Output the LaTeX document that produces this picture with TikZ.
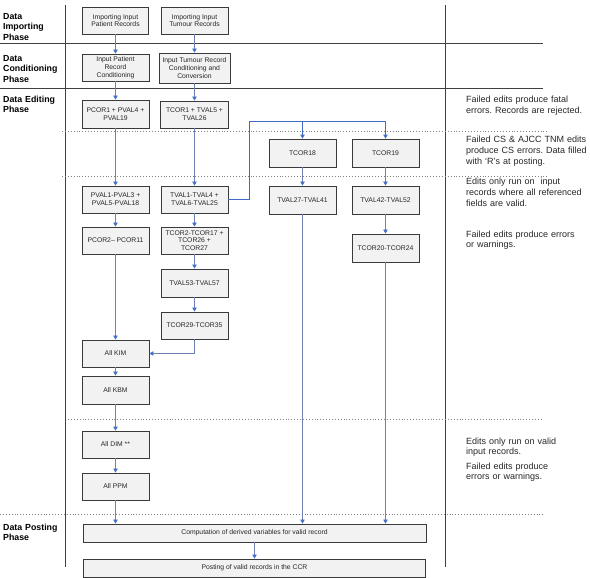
\documentclass[tikz,border=0pt]{standalone}
\usepackage{fontspec}
\setmainfont{Liberation Sans}
\frenchspacing
\usetikzlibrary{arrows.meta}
\definecolor{boxfill}{HTML}{F2F2F2}
\definecolor{boxborder}{HTML}{3A3A3A}
\definecolor{sepclr}{HTML}{404040}
\definecolor{dotclr}{HTML}{808080}
\definecolor{connclr}{RGB}{112,128,178}
\definecolor{arrowclr}{HTML}{4472C4}
\definecolor{blueconn}{HTML}{3F6BC8}
\tikzset{
  box/.style={draw=boxborder, fill=boxfill, line width=0.9pt, inner sep=1pt, align=center,
    font=\fontsize{6.8}{7.8}\selectfont, text=black!85},
  conn/.style={draw=connclr, line width=0.7pt, -{Triangle[width=4.5pt,length=4pt,color=arrowclr]}},
  bconn/.style={conn, draw=blueconn},
  sepline/.style={draw=sepclr, line width=0.9pt},
  dotline/.style={draw=dotclr, line width=0.6pt, dash pattern=on 0.7pt off 2.2pt},
  phase/.style={anchor=base west, inner sep=0pt, align=left, text width=62pt,
    font=\fontsize{8.8}{10.3}\selectfont\bfseries},
  note/.style={anchor=base west, inner sep=0pt, align=left, text width=125pt,
    font=\fontsize{9}{10.8}\selectfont, text=black!85},
}
\begin{document}
\begin{tikzpicture}[x=1pt,y=-1pt]
\useasboundingbox (0,0) rectangle (590,578);
% separators
\draw[sepline] (65,5) -- (65,567);
\draw[sepline] (445,5) -- (445,567);
\draw[sepline] (0,43) -- (543,43);
\draw[sepline] (0,88) -- (543,88);
\draw[dotline] (62,131) -- (547,131);
\draw[dotline] (62,176) -- (547,176);
\draw[dotline] (68,419) -- (543,419);
\draw[dotline] (0,514) -- (543,514);
% phase labels
\node[phase] (ph1) at (3,19.5) {Data\\Importing\\Phase};
\node[phase] (ph2) at (3,61.5) {Data\\Conditioning\\Phase};
\node[phase] (ph3) at (3,102.5) {Data Editing\\Phase};
\node[phase] (ph4) at (3,530) {Data Posting\\Phase};
% notes
\node[note] (n1) at (466,102.5) {Failed edits produce fatal\\errors. Records are rejected.};
\node[note] (n2) at (466,142.5) {Failed CS \& AJCC TNM edits\\produce CS errors. Data filled\\with `R's at posting.};
\node[note] (n3) at (466,185) {Edits only run on\ \ input\\records where all referenced\\fields are valid.};
\node[note] (n4) at (466,237) {Failed edits produce errors\\or warnings.};
\node[note] (n5) at (466,444) {Edits only run on valid\\input records.};
\node[note] (n6) at (466,469) {Failed edits produce\\errors or warnings.};
% boxes
\node[box, minimum width=66pt, minimum height=27pt] (imp1) at (115.5,20.5) {Importing Input\\Patient Records};
\node[box, minimum width=67pt, minimum height=27pt] (imp2) at (194.5,20.5) {Importing Input\\Tumour Records};
\node[box, minimum width=67pt, minimum height=27pt] (cond1) at (115.5,67.5) {Input Patient\\Record\\Conditioning};
\node[box, minimum width=71pt, minimum height=30pt] (cond2) at (194.5,68) {Input Tumour Record\\Conditioning and\\Conversion};
\node[box, minimum width=67pt, minimum height=28pt] (pcor1) at (115.5,114) {PCOR1 + PVAL4 +\\PVAL19};
\node[box, minimum width=68pt, minimum height=27pt] (tcor1) at (194.5,114.5) {TCOR1 + TVAL5 +\\TVAL26};
\node[box, minimum width=67pt, minimum height=28pt] (tcor18) at (302.5,153) {TCOR18};
\node[box, minimum width=67pt, minimum height=28pt] (tcor19) at (385.5,153) {TCOR19};
\node[box, minimum width=67pt, minimum height=28pt] (tval27) at (302.5,200) {TVAL27-TVAL41};
\node[box, minimum width=67pt, minimum height=28pt] (tval42) at (385.5,200) {TVAL42-TVAL52};
\node[box, minimum width=67pt, minimum height=28pt] (tcor20) at (385.5,248) {TCOR20-TCOR24};
\node[box, minimum width=67pt, minimum height=27pt] (pval1) at (115.5,199.5) {PVAL1-PVAL3 +\\PVAL5-PVAL18};
\node[box, minimum width=67pt, minimum height=27pt] (tval1) at (194.5,199.5) {TVAL1-TVAL4 +\\TVAL6-TVAL25};
\node[box, minimum width=67pt, minimum height=27pt] (pcor2) at (115.5,240.5) {PCOR2– PCOR11};
\node[box, minimum width=67pt, minimum height=27pt] (tcor2) at (194.5,240.5) {TCOR2-TCOR17 +\\TCOR26 +\\TCOR27};
\node[box, minimum width=67pt, minimum height=28pt] (tval53) at (194.5,283) {TVAL53-TVAL57};
\node[box, minimum width=67pt, minimum height=27pt] (tcor29) at (194.5,325.5) {TCOR29-TCOR35};
\node[box, minimum width=67pt, minimum height=27pt] (kim) at (115.5,353.5) {All KIM};
\node[box, minimum width=67pt, minimum height=28pt] (kbm) at (115.5,390) {All KBM};
\node[box, minimum width=67pt, minimum height=27pt] (dim) at (115.5,444.5) {All DIM **};
\node[box, minimum width=67pt, minimum height=27pt] (ppm) at (115.5,486.5) {All PPM};
\node[box, minimum width=343pt, minimum height=18pt] (comp) at (254.5,533) {Computation of derived variables for valid record};
\node[box, minimum width=342pt, minimum height=18pt] (post) at (254.5,568) {Posting of valid records in the CCR};
% connectors
\draw[conn] (imp1) -- (cond1);
\draw[conn] (imp2) -- (cond2);
\draw[conn] (cond1) -- (pcor1);
\draw[conn] (cond2) -- (tcor1);
\draw[conn] (pcor1) -- (pval1);
\draw[conn] (tcor1) -- (tval1);
\draw[conn] (pval1) -- (pcor2);
\draw[conn] (tval1) -- (tcor2);
\draw[conn] (pcor2) -- (kim);
\draw[conn] (tcor2) -- (tval53);
\draw[conn] (tval53) -- (tcor29);
\draw[conn] (tcor29.south) |- (kim.east);
\draw[conn] (kim) -- (kbm);
\draw[conn] (kbm) -- (dim);
\draw[conn] (dim) -- (ppm);
\draw[conn] (ppm.south) -- (ppm.south |- comp.north);
\coordinate (jx) at (249,121);
\draw[draw=blueconn, line width=0.7pt] (tval1.east) -| (jx);
\draw[bconn] (jx) -| (tcor19.north);
\draw[bconn] (jx -| tcor18.north) -- (tcor18.north);
\draw[conn] (tcor18) -- (tval27);
\draw[conn] (tcor19) -- (tval42);
\draw[conn] (tval42) -- (tcor20);
\draw[conn] (tval27.south) -- (tval27.south |- comp.north);
\draw[conn] (tcor20.south) -- (tcor20.south |- comp.north);
\draw[conn] (comp) -- (post);
\end{tikzpicture}
\end{document}
